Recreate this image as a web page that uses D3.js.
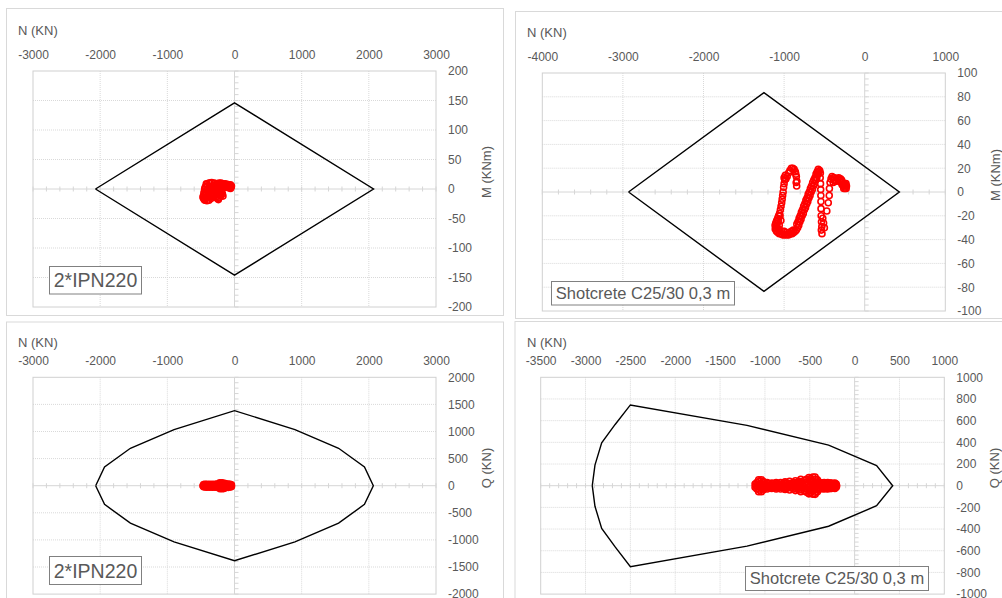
<!DOCTYPE html>
<html><head><meta charset="utf-8">
<script src="https://cdn.jsdelivr.net/npm/d3@7"></script>
<style>body{margin:0;background:#fff;}svg{display:block;font-family:"Liberation Sans",Arial,sans-serif;}</style>
</head><body>
<svg id="c" width="1002" height="598"></svg>
<script>
// ---------- DATA ----------
const ipnXTicks = [-3000,-2000,-1000,0,1000,2000,3000];
const ipnMTicks = [-200,-150,-100,-50,0,50,100,150,200];
const ipnQTicks = [-2000,-1500,-1000,-500,0,500,1000,1500,2000];
const shotMNTicks = [-4000,-3000,-2000,-1000,0,1000];
const shotMTicks = [-100,-80,-60,-40,-20,0,20,40,60,80,100];
const shotQNTicks = [-3500,-3000,-2500,-2000,-1500,-1000,-500,0,500,1000];
const shotQTicks = [-1000,-800,-600,-400,-200,0,200,400,600,800,1000];

const ipnLabel = "2*IPN220";
const shotLabel = "Shotcrete C25/30 0,3 m";

// interaction envelopes [N, value]
const ipnMEnvelope = [[-2070,0],[0,146],[2070,0],[0,-146],[-2070,0]];
const shotMEnvelope = [[-2930,0],[-1250,83.5],[430,0],[-1250,-83.5],[-2930,0]];
const ipnQEnvelope = [[-2067,0],[-1935,345],[-1550,690],[-900,1035],[0,1385],[900,1035],[1550,690],[1935,345],[2067,0],
  [1935,-345],[1550,-690],[900,-1035],[0,-1385],[-900,-1035],[-1550,-690],[-1935,-345],[-2067,0]];
const shotQEnvelope = [[-2925,0],[-2895,190],[-2820,395],[-2670,565],[-2500,745],[-1200,557],[-290,374],[245,185],[425,0],
  [245,-185],[-290,-374],[-1200,-557],[-2500,-748],[-2670,-565],[-2820,-395],[-2895,-190],[-2925,0]];

// load points [N, value]
const ipnMPoints = [[-300,10],[-340,11],[-380,10],[-410,8],[-430,4],[-445,-1],[-455,-6],[-462,-11],[-458,-16],[-440,-19],
  [-410,-20],[-380,-19],[-350,-16],[-325,-12],[-305,-7],[-290,-2],[-275,3],[-262,7],[-250,9],[-230,10],[-200,10],[-170,9],
  [-140,9],[-110,8],[-85,7],[-65,5],[-50,3],[-60,1],[-90,2],[-130,3],[-400,0],[-390,-8],[-360,-10],[-420,-8],[-370,4],
  [-330,2],[-350,-3],[-240,0],[-245,-6],[-250,-12],[-255,-16],[-230,-15],[-215,-10],[-200,-4],[-190,2],[-210,4],[-225,-3],
  [-180,-8],[-172,-12],[-160,5],[-120,4],[-300,-2],[-320,-8],[-440,-10],[-280,-14],[-470,-14],[-450,-18],[-420,-15],
  [-395,-14],[-440,2],[-420,9],[-360,10],[-320,6],[-300,4],[-340,-6],[-380,-4],[-410,-3],[-265,-8],[-240,-18],[-205,-12],
  [-190,-6],[-180,6],[-150,6],[-100,6],[-75,4],[-250,-2],[-280,-5],[-360,-14],[-240,8],[-60,7],[-45,5]];
const shotMPoints = [[-844,5],[-842,9],[-848,13],[-860,17],[-875,19],[-892,20],[-910,20],[-928,18],[-945,16],[-962,13],
  [-978,11],[-992,10],[-1000,7],[-1006,4],[-1012,0],[-1018,-3],[-1024,-6],[-1030,-9],[-1038,-12],[-1046,-15],[-1056,-18],
  [-1068,-20],[-1080,-22],[-1092,-24],[-1104,-26],[-1112,-28],[-1110,-31],[-1095,-33],[-1078,-34],[-1060,-35],[-1040,-35],
  [-1020,-36],[-1000,-36],[-980,-36],[-960,-36],[-940,-36],[-920,-35],[-900,-35],[-880,-34],[-862,-33],[-848,-32],
  [-1100,-30],[-1090,-28],[-1075,-31],[-1055,-32],[-1030,-33],[-1000,-33],[-970,-34],[-940,-34],[-910,-33],[-885,-32],
  [-832,-30],[-818,-28],[-804,-25],[-790,-23],[-776,-20],[-762,-18],[-748,-15],[-734,-13],[-720,-10],[-706,-8],
  [-692,-5],[-678,-3],[-664,0],[-650,2],[-636,5],[-622,7],[-608,10],[-594,12],[-580,15],[-568,17],[-558,18],[-550,16],
  [-842,-27],[-828,-25],[-814,-22],[-800,-20],[-786,-17],[-772,-15],[-758,-12],[-744,-10],[-730,-7],[-716,-5],
  [-702,-2],[-688,0],[-674,3],[-660,5],[-646,8],[-632,10],[-618,12],[-604,15],[-590,17],[-576,19],
  [-850,8],[-855,15],[-1000,12],[-985,14],[-1050,-20],[-1040,-24],[-1060,-28],[-1085,-26],[-1070,-24],
  [-552,12],[-548,7],[-546,2],[-544,-3],[-543,-8],[-542,-14],[-540,-20],[-536,-25],[-532,-29],[-538,-32],[-530,-35],
  [-520,-22],[-510,-26],[-500,-30],[-470,-16],[-452,-9],[-440,-3],[-438,3],[-430,8],[-418,11],[-405,13],[-392,12],
  [-380,10],[-366,9],[-350,9],[-336,11],[-322,12],[-308,10],[-294,8],[-280,6],[-266,5],[-252,5],[-238,5],[-226,5],
  [-300,11],[-286,10],[-272,8],[-258,7],[-244,6],[-232,7],[-390,8],[-375,12],[-260,3],[-245,3],[-230,3]];
const ipnQPoints = [[-470,0],[-450,8],[-450,-8],[-425,0],[-400,10],[-400,-10],[-375,0],[-350,8],[-350,-8],[-325,0],
  [-300,10],[-300,-10],[-275,0],[-250,10],[-250,-10],[-230,30],[-225,-30],[-210,0],[-200,45],[-195,-40],[-180,10],
  [-170,-10],[-160,30],[-150,-25],[-130,0],[-110,15],[-100,-15],[-85,0],[-70,12],[-60,-12],[-50,0],[-420,-15],[-380,15],
  [-330,-15],[-280,15],[-190,20],[-210,-20],[-140,20],[-120,-20],[-460,20],[-460,-20],[-440,25],[-440,-25],[-410,28],
  [-410,-28],[-370,28],[-370,-28],[-330,28],[-330,-28],[-290,28],[-290,-28],[-260,30],[-260,-30],[-220,55],[-215,-55],
  [-185,55],[-180,-55],[-160,-50],[-150,45],[-130,35],[-125,-35],[-95,30],[-90,-30],[-65,25],[-60,-25],[-45,15],[-45,-15]];
const shotQPoints = [[-1100,0],[-1090,30],[-1090,-30],[-1070,55],[-1070,-55],[-1050,20],[-1050,-20],[-1035,0],[-1020,40],
  [-1020,-40],[-1000,15],[-1000,-15],[-975,30],[-975,-30],[-950,0],[-925,25],[-925,-25],[-900,0],[-875,30],[-875,-30],
  [-850,10],[-850,-10],[-825,30],[-825,-30],[-800,0],[-775,35],[-775,-35],[-750,10],[-750,-10],[-725,40],[-725,-40],
  [-700,0],[-680,30],[-680,-30],[-660,45],[-660,-45],[-640,10],[-640,-15],[-620,40],[-620,-40],[-600,60],[-600,-55],
  [-580,20],[-580,-20],[-560,50],[-560,-50],[-540,5],[-525,35],[-525,-35],[-510,75],[-510,-75],[-495,0],[-480,45],
  [-480,-45],[-465,80],[-465,-78],[-450,20],[-450,-20],[-435,60],[-435,-60],[-420,0],[-405,35],[-405,-35],[-390,20],
  [-390,-20],[-370,0],[-350,25],[-350,-25],[-330,0],[-310,25],[-310,-25],[-290,0],[-270,25],[-270,-25],[-250,0],
  [-230,20],[-230,-20],[-215,0],[-205,15],[-205,-15],
  [-1110,15],[-1110,-15],[-1080,10],[-1080,-10],[-1060,40],[-1060,-40],[-1040,55],[-1040,-55],[-1010,28],[-1010,-28],
  [-985,5],[-960,20],[-960,-20],[-935,10],[-935,-10],[-910,20],[-910,-20],[-890,10],[-890,-10],[-860,22],[-860,-22],
  [-840,0],[-810,18],[-810,-18],[-790,22],[-790,-22],[-760,25],[-760,-25],[-740,0],[-715,20],[-715,-20],[-690,15],
  [-690,-15],[-670,0],[-650,28],[-650,-28],[-630,25],[-630,-25],[-610,10],[-610,-10],[-590,35],[-590,-35],[-570,0],
  [-550,25],[-550,-25],[-535,60],[-535,-60],[-515,15],[-515,-15],[-500,45],[-500,-45],[-490,65],[-490,-65],[-470,10],
  [-455,40],[-455,-40],[-440,80],[-440,-80],[-425,25],[-425,-25],[-415,55],[-415,-55],[-400,5],[-380,30],[-380,-30],
  [-360,10],[-360,-10],[-340,30],[-340,-30],[-320,10],[-320,-10],[-300,30],[-300,-30],[-280,10],[-280,-10],[-260,25],
  [-260,-25],[-240,10],[-240,-10],[-220,25],[-220,-25],[-200,0]];

// ---------- DRAW ----------
const svg = d3.select("#c");
const grey = "#595959";

const panels = [
  {box:[6,8,497,307], plot:[33,436,71,307], xd:[-3000,3000], yd:[-200,200], xt:ipnXTicks, yt:ipnMTicks,
   xMinor:200, yMinor:10, env:ipnMEnvelope, pts:ipnMPoints, label:ipnLabel, lb:[49,266,92,27.5], lfs:19.5,
   nPos:[18,30], yTitle:"M (KNm)", yTitlePos:[486,172], xPad:12.5},
  {box:[515,11,500,307], plot:[542.3,945.3,73,311], xd:[-4000,1000], yd:[-100,100], xt:shotMNTicks, yt:shotMTicks,
   xMinor:200, yMinor:5, env:shotMEnvelope, pts:shotMPoints, label:shotLabel, lb:[551,281,183,23.5], lfs:16.5,
   nPos:[527,32], yTitle:"M (KNm)", yTitlePos:[995,175], xPad:12.5},
  {box:[6,321.5,497,290], plot:[33,436,377.3,594.1], xd:[-3000,3000], yd:[-2000,2000], xt:ipnXTicks, yt:ipnQTicks,
   xMinor:200, yMinor:100, env:ipnQEnvelope, pts:ipnQPoints, label:ipnLabel, lb:[49,556,92,28], lfs:19.5,
   nPos:[18,342], yTitle:"Q (KN)", yTitlePos:[486,468], xPad:12},
  {box:[514.5,321,500,290], plot:[540.7,944.3,377.3,594.1], xd:[-3500,1000], yd:[-1000,1000], xt:shotQNTicks, yt:shotQTicks,
   xMinor:100, yMinor:40, env:shotQEnvelope, pts:shotQPoints, label:shotLabel, lb:[745,566,183,24], lfs:16.5,
   nPos:[527,342], yTitle:"Q (KN)", yTitlePos:[994,468], xPad:12}
];

panels.forEach(p => {
  const g = svg.append("g");
  g.append("rect").attr("x",p.box[0]+0.5).attr("y",p.box[1]+0.5).attr("width",p.box[2]).attr("height",p.box[3])
    .attr("fill","#fff").attr("stroke","#d9d9d9").attr("stroke-width",1);
  const [x0,x1,y0,y1] = p.plot;
  const x = d3.scaleLinear().domain(p.xd).range([x0,x1]);
  const y = d3.scaleLinear().domain(p.yd).range([y1,y0]);

  // gridlines
  g.selectAll(".gx").data(p.xt.filter(v=>v!==0 && v!==p.xd[0] && v!==p.xd[1])).join("line")
    .attr("x1",d=>x(d)).attr("x2",d=>x(d)).attr("y1",y0).attr("y2",y1)
    .attr("stroke","#d9d9d9").attr("stroke-dasharray","1,1");
  g.selectAll(".gy").data(p.yt.filter(v=>v!==0 && v!==p.yd[0] && v!==p.yd[1])).join("line")
    .attr("y1",d=>y(d)).attr("y2",d=>y(d)).attr("x1",x0).attr("x2",x1)
    .attr("stroke","#d9d9d9").attr("stroke-dasharray","1,1");
  // plot border
  g.append("rect").attr("x",x0).attr("y",y0).attr("width",x1-x0).attr("height",y1-y0)
    .attr("fill","none").attr("stroke","#d0d0d0");
  // zero lines
  g.append("line").attr("x1",x0).attr("x2",x1).attr("y1",y(0)).attr("y2",y(0)).attr("stroke","#d6d6d6");
  g.append("line").attr("x1",x(0)).attr("x2",x(0)).attr("y1",y0).attr("y2",y1).attr("stroke","#d6d6d6");
  // minor ticks on zero lines
  const mx = d3.range(p.xd[0], p.xd[1]+1e-9, p.xMinor);
  g.selectAll(".mx").data(mx).join("line").attr("x1",d=>x(d)).attr("x2",d=>x(d))
    .attr("y1",y(0)-2.5).attr("y2",y(0)+2.5).attr("stroke","#d6d6d6");
  const my = d3.range(p.yd[0], p.yd[1]+1e-9, p.yMinor);
  g.selectAll(".my").data(my).join("line").attr("y1",d=>y(d)).attr("y2",d=>y(d))
    .attr("x1",x(0)).attr("x2",x(0)+4).attr("stroke","#d6d6d6");

  // axes
  const ax = g.append("g").attr("transform",`translate(0,${y0})`)
    .call(d3.axisTop(x).tickValues(p.xt).tickSize(0).tickPadding(p.xPad).tickFormat(d3.format("d")));
  const ay = g.append("g").attr("transform",`translate(${x1},0)`)
    .call(d3.axisRight(y).tickValues(p.yt).tickSize(0).tickPadding(12).tickFormat(d3.format("d")));
  [ax,ay].forEach(a => {
    a.select(".domain").remove();
    a.selectAll("text").attr("fill",grey).style("font-size","12px").style("font-family","'Liberation Sans',Arial,sans-serif");
  });
  ax.selectAll("text").text(d=>d<0?"-"+Math.abs(d):String(d));
  ay.selectAll("text").text(d=>d<0?"-"+Math.abs(d):String(d));

  // titles
  g.append("text").attr("x",p.nPos[0]).attr("y",p.nPos[1]).attr("dy","0.35em").text("N (KN)")
    .attr("fill",grey).style("font-size","13px");
  g.append("text").attr("transform",`translate(${p.yTitlePos[0]},${p.yTitlePos[1]}) rotate(-90)`)
    .attr("text-anchor","middle").attr("dy","0.35em").text(p.yTitle).attr("fill",grey).style("font-size","13px");

  // envelope
  const line = d3.line().x(d=>x(d[0])).y(d=>y(d[1]));
  g.append("path").datum(p.env).attr("d",line).attr("fill","none").attr("stroke","#000").attr("stroke-width",1.4);

  // points
  g.selectAll(".pt").data(p.pts).join("circle").attr("cx",d=>x(d[0])).attr("cy",d=>y(d[1])).attr("r",3)
    .attr("fill","none").attr("stroke","#ff0000").attr("stroke-width",1.6);

  // label box
  g.append("rect").attr("x",p.lb[0]+0.5).attr("y",p.lb[1]+0.5).attr("width",p.lb[2]).attr("height",p.lb[3])
    .attr("fill","#fff").attr("stroke","#808080");
  g.append("text").attr("x",p.lb[0]+p.lb[2]/2+0.5).attr("y",p.lb[1]+p.lb[3]/2+0.5).attr("dy","0.36em")
    .attr("text-anchor","middle").text(p.label).attr("fill",grey).style("font-size",p.lfs+"px");
});
</script>
</body></html>
